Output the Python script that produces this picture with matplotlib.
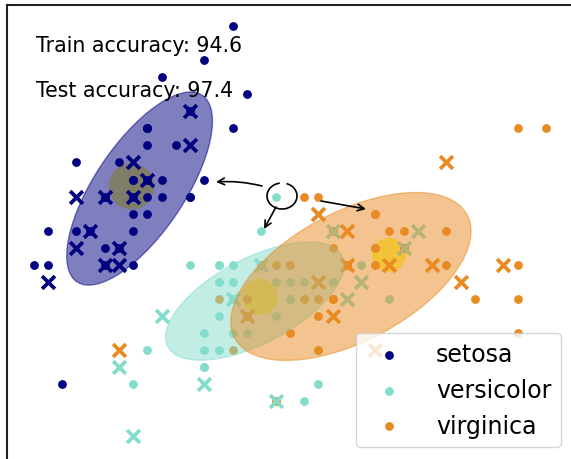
import numpy as np
import matplotlib
matplotlib.use("Agg")
import matplotlib.pyplot as plt
from matplotlib.patches import Ellipse, Arc
from matplotlib.transforms import IdentityTransform

# ---------------- data (sepal length, sepal width) ----------------
class_names = ["setosa", "versicolor", "virginica"]
colors = ["#000080", "#84ddcc", "#e88b22"]

setosa_train_x = [4.3, 5.8, 5.7, 5.4, 5.1, 5.7, 5.1, 5.4, 5.1, 4.6, 5.1, 4.8, 5.0, 5.0, 5.2, 5.2, 4.7, 4.8, 5.4,
                  5.2, 5.5, 4.9, 5.0, 5.5, 4.9, 4.4, 5.1, 5.0, 4.5, 4.4, 5.0, 5.1, 4.8, 5.1, 4.6, 5.3, 5.0]
setosa_train_y = [3.0, 4.0, 4.4, 3.9, 3.5, 3.8, 3.8, 3.4, 3.7, 3.6, 3.3, 3.4, 3.0, 3.4, 3.5, 3.4, 3.2, 3.1, 3.4,
                  4.1, 4.2, 3.1, 3.2, 3.5, 3.6, 3.0, 3.4, 3.5, 2.3, 3.2, 3.5, 3.8, 3.0, 3.8, 3.2, 3.7, 3.3]
setosa_test_x = [5.1, 4.9, 4.7, 4.6, 5.0, 5.4, 4.6, 5.0, 4.4, 4.9, 5.4, 4.8, 4.8]
setosa_test_y = [3.5, 3.0, 3.2, 3.1, 3.6, 3.9, 3.4, 3.4, 2.9, 3.1, 3.7, 3.4, 3.0]

versicolor_train_x = [6.1, 5.6, 6.7, 5.6, 5.8, 6.2, 5.6, 5.9, 6.1, 6.3, 6.1, 6.4, 6.6, 6.8, 6.7, 6.0, 5.7, 5.5, 5.5,
                      5.8, 6.0, 5.4, 6.0, 6.7, 6.3, 5.6, 5.5, 5.5, 6.1, 5.8, 5.0, 5.6, 5.7, 5.7, 6.2, 5.1, 5.7]
versicolor_train_y = [2.9, 2.9, 3.1, 3.0, 2.7, 2.2, 2.5, 3.2, 2.8, 2.5, 2.8, 2.9, 3.0, 2.8, 3.0, 2.9, 2.6, 2.4, 2.4,
                      2.7, 2.7, 3.0, 3.4, 3.1, 2.3, 3.0, 2.5, 2.6, 3.0, 2.6, 2.3, 2.7, 3.0, 2.9, 2.9, 2.5, 2.8]
versicolor_test_x = [7.0, 6.4, 6.9, 5.5, 6.5, 5.7, 6.3, 4.9, 6.6, 5.2, 5.0, 5.9, 6.0]
versicolor_test_y = [3.2, 3.2, 3.1, 2.3, 2.8, 2.8, 3.3, 2.4, 2.9, 2.7, 2.0, 3.0, 2.2]

virginica_train_x = [5.7, 5.8, 6.4, 6.5, 7.7, 7.7, 6.0, 6.9, 5.6, 7.7, 6.3, 6.7, 7.2, 6.2, 6.1, 6.4, 7.2, 7.4, 7.9,
                     6.4, 6.3, 6.1, 7.7, 6.3, 6.4, 6.0, 6.9, 6.7, 6.9, 5.8, 6.8, 6.7, 6.7, 6.3, 6.5, 6.2, 5.9]
virginica_train_y = [2.5, 2.8, 3.2, 3.0, 3.8, 2.6, 2.2, 3.2, 2.8, 2.8, 2.7, 3.3, 3.2, 2.8, 3.0, 2.8, 3.0, 2.8, 3.8,
                     2.8, 2.8, 2.6, 3.0, 3.4, 3.1, 3.0, 3.1, 3.1, 3.1, 2.7, 3.2, 3.3, 3.0, 2.5, 3.0, 3.4, 3.0]
virginica_test_x = [6.3, 5.8, 7.1, 6.3, 6.5, 7.6, 4.9, 7.3, 6.7, 7.2, 6.5, 6.4, 6.8]
virginica_test_y = [3.3, 2.7, 3.0, 2.9, 3.0, 3.0, 2.5, 2.9, 2.5, 3.6, 3.2, 2.7, 3.0]

# Gaussian components (means and covariances, read from the ellipses)
means = [[5.045, 3.447], [5.854, 2.788], [6.529, 2.932]]
covariances = [
    [[0.131, 0.101], [0.101, 0.160]],
    [[0.196, 0.066], [0.066, 0.060]],
    [[0.356, 0.112], [0.112, 0.121]],
]
# highlighted centres (yellow blobs)
centre_x = [4.989, 5.889, 6.796]
centre_y = [3.459, 2.812, 3.059]
centre_size = [1090, 680, 600]

train_accuracy = 94.6
test_accuracy = 97.4

train_x = [setosa_train_x, versicolor_train_x, virginica_train_x]
train_y = [setosa_train_y, versicolor_train_y, virginica_train_y]
test_x = [setosa_test_x, versicolor_test_x, virginica_test_x]
test_y = [setosa_test_y, versicolor_test_y, virginica_test_y]

# ---------------- figure ----------------
W, H = 571, 460
fig = plt.figure(figsize=(W / 100, H / 100), dpi=100)
ax = fig.add_axes([7 / W, -10 / H, 573 / W, 464.5 / H])
ax.set_xlim(4.1139, 8.1378)
ax.set_ylim(1.8041, 4.5253)
ax.set_xticks([])
ax.set_yticks([])
for side in ["left", "top"]:
    ax.spines[side].set_linewidth(1.5)
    ax.spines[side].set_color("#222222")

# yellow centre blobs (under points)
ax.scatter(centre_x, centre_y, s=centre_size, color=(1.0, 0.98, 0.31), linewidths=0, zorder=1)

# points
for n, color in enumerate(colors):
    ax.scatter(train_x[n], train_y[n], s=40, color=color, linewidths=0, label=class_names[n], zorder=2)
for n, color in enumerate(colors):
    ax.scatter(test_x[n], test_y[n], s=85, marker="x", color=color, linewidths=2.7, zorder=2)

# ellipses (on top of points, as in older matplotlib)
for n, color in enumerate(colors):
    cov = np.array(covariances[n])
    v, w = np.linalg.eigh(cov)
    u = w[:, 0]
    angle = np.degrees(np.arctan2(u[1], u[0]))
    v = 2.0 * np.sqrt(2.0) * np.sqrt(v)
    ell = Ellipse(means[n], v[0], v[1], angle=angle, color=color, alpha=0.5, zorder=3)
    ax.add_patch(ell)

fig.text(36 / W, (H - 52) / H, "Train accuracy: %.1f" % train_accuracy, fontsize=14.8, va="baseline")
fig.text(36 / W, (H - 97) / H, "Test accuracy: %.1f" % test_accuracy, fontsize=14.8, va="baseline")

leg = ax.legend(loc="lower right", bbox_to_anchor=(561 / W, (H - 448) / H), bbox_transform=fig.transFigure,
                borderaxespad=0, fontsize=17, scatterpoints=1, handletextpad=1.0)

# hand drawn annotations (figure pixels)
def fp(x, y):
    return (x, H - y)

ap = dict(arrowstyle="->", lw=1.2, color="black", shrinkA=0, shrinkB=0, mutation_scale=12)
ax.annotate("", xy=fp(216, 183), xytext=fp(262, 187), xycoords="figure pixels", textcoords="figure pixels",
            arrowprops=dict(ap, connectionstyle="arc3,rad=0.08"), zorder=6)
ax.annotate("", xy=fp(264, 230), xytext=fp(276, 208), xycoords="figure pixels", textcoords="figure pixels",
            arrowprops=dict(ap), zorder=6)
ax.annotate("", xy=fp(366, 210), xytext=fp(321, 202), xycoords="figure pixels", textcoords="figure pixels",
            arrowprops=dict(ap), zorder=6)
loop = Arc(fp(282, 197), 30, 26, theta1=100, theta2=430, lw=1.2, color="black", transform=IdentityTransform())
fig.add_artist(loop)

fig.savefig("out.png", dpi=100)
